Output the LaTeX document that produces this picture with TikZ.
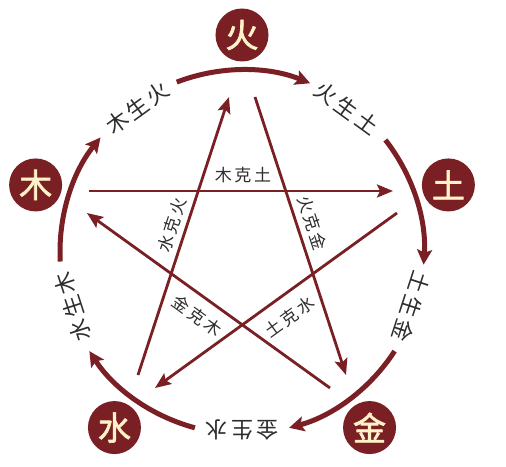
\documentclass[tikz,border=0pt]{standalone}
\usepackage{fontspec}
\newfontfamily\cjk{Noto Sans CJK SC}
\newfontfamily\cjkbig[LetterSpace=14]{Noto Sans CJK SC}
\newfontfamily\cjksmall[LetterSpace=16]{Noto Sans CJK SC}
\newfontfamily\cjkbold[FakeBold=2]{Noto Sans CJK SC}
\usetikzlibrary{arrows.meta}
\definecolor{wred}{RGB}{122,32,36}
\definecolor{cream}{RGB}{255,242,200}
\definecolor{labelgray}{RGB}{45,45,45}
\begin{document}
\begin{tikzpicture}[x=1pt,y=1pt,
  elem/.style={circle,fill=wred,minimum size=53pt,inner sep=0pt,text=cream,
    font=\cjkbold\fontsize{33}{33}\selectfont},
  sheng/.style={-{Stealth[length=15pt,width=15pt,inset=3pt]},line width=5pt,draw=wred},
  ke/.style={-{Stealth[length=16pt,width=13pt,inset=3pt]},line width=2.8pt,draw=wred},
  slabel/.style={text=labelgray,font=\cjkbig\fontsize{22}{22}\selectfont,inner sep=0pt},
  klabel/.style={text=labelgray,font=\cjksmall\fontsize{17}{17}\selectfont,inner sep=0pt}]
\useasboundingbox (-242,-214) rectangle (264,252);
\fill[white] (-242,-214) rectangle (264,252);
% elements
\node[elem] (huo) at (90:217) {火};
\node[elem] (tu) at (18:217) {土};
\node[elem] (jin) at (-54:217) {金};
\node[elem] (shui) at (-126:217) {水};
\node[elem] (mu) at (162:217) {木};
% generating cycle
\coordinate (a1s) at (183:182); \coordinate (a2s) at (111:182);
\coordinate (a3s) at (38:182);  \coordinate (a4s) at (-33:182);
\coordinate (a5s) at (-105:182);
\draw[sheng] (a1s) arc[start angle=183,end angle=141,radius=182];
\draw[sheng] (a2s) arc[start angle=111,end angle=68,radius=182];
\draw[sheng] (a3s) arc[start angle=38,end angle=-4,radius=182];
\draw[sheng] (a4s) arc[start angle=-33,end angle=-75,radius=182];
\draw[sheng] (a5s) arc[start angle=-105,end angle=-147,radius=182];
\node[slabel,rotate=36] (l1) at (126:178) {木生火};
\node[slabel,rotate=-36] (l2) at (54:178) {火生土};
\node[slabel,rotate=-108] (l3) at (-18:178) {土生金};
\node[slabel,rotate=180] (l4) at (-90:178) {金生水};
\node[slabel,rotate=108] (l5) at (-162:178) {水生木};
% controlling star
\coordinate (mk1) at (-153,61);  \coordinate (mk2) at (151,61);
\coordinate (hj1) at (13,155);   \coordinate (hj2) at (104,-123);
\coordinate (ts1) at (155,39);   \coordinate (ts2) at (-87,-136);
\coordinate (jm1) at (88,-136);  \coordinate (jm2) at (-155,39);
\coordinate (sh1) at (-104,-123);\coordinate (sh2) at (-13,155);
\draw[ke] (mk1) -- (mk2);
\draw[ke] (hj1) -- (hj2);
\draw[ke] (ts1) -- (ts2);
\draw[ke] (jm1) -- (jm2);
\draw[ke] (sh1) -- (sh2);
\node[klabel] (k1) at (1,77) {木克土};
\node[klabel,rotate=-72] (k2) at (70,29) {火克金};
\node[klabel,rotate=72] (k3) at (-70,27) {水克火};
\node[klabel,rotate=-36] (k4) at (-45,-64) {金克木};
\node[klabel,rotate=36] (k5) at (48,-65) {土克水};
\end{tikzpicture}
\end{document}
